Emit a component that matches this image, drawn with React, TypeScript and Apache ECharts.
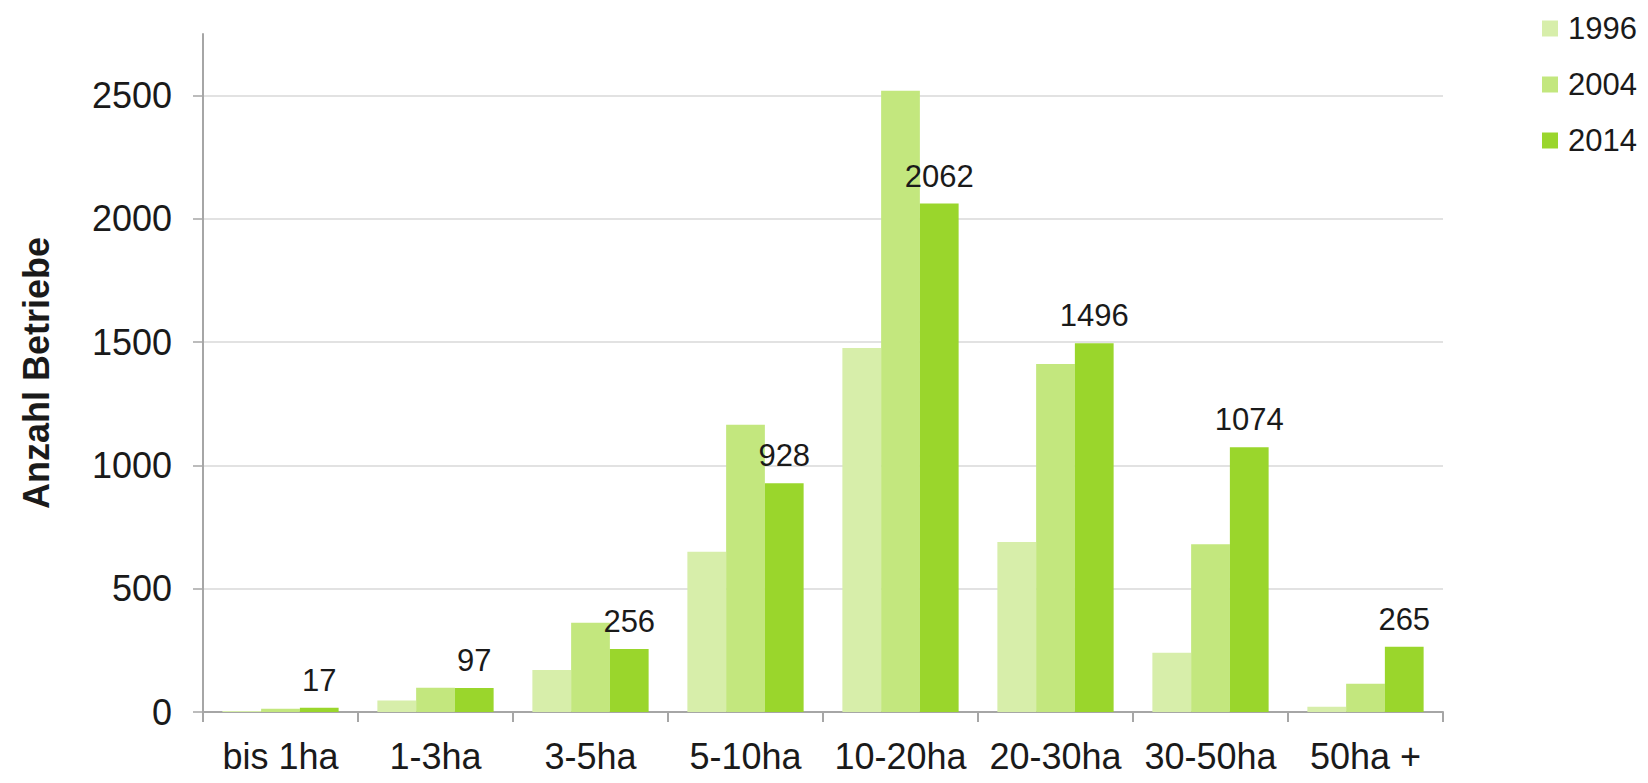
import React, { useEffect, useRef } from "react";
import * as echarts from "echarts";

const categories = ["bis 1ha", "1-3ha", "3-5ha", "5-10ha", "10-20ha", "20-30ha", "30-50ha", "50ha +"];
const seriesNames = ["1996", "2004", "2014"];
const values1996 = [4, 47, 170, 650, 1476, 690, 240, 21];
const values2004 = [13, 98, 362, 1165, 2520, 1412, 680, 115];
const values2014 = [17, 97, 256, 928, 2062, 1496, 1074, 265];
const yTicks = [0, 500, 1000, 1500, 2000, 2500];
const colors = ["#d7eeaa", "#c3e77e", "#9ad62c"];

const FONT = "'Liberation Sans', Arial, sans-serif";

export default function App() {
  const ref = useRef<HTMLDivElement>(null);
  useEffect(() => {
    if (!ref.current) return;
    const chart = echarts.init(ref.current, null, { renderer: "svg" });
    const data = [values1996, values2004, values2014];
    chart.setOption({
      animation: false,
      backgroundColor: "#ffffff",
      textStyle: { fontFamily: FONT },
      legend: {
        orient: "vertical",
        left: 1537,
        top: 8,
        itemWidth: 16,
        itemHeight: 16,
        itemGap: 25,
        icon: "rect",
        textStyle: { fontSize: 31, color: "#1a1a1a", fontFamily: FONT, padding: [0, 0, 0, 5] },
        data: seriesNames,
      },
      grid: { left: 203, right: 205, top: 34, bottom: 71, containLabel: false },
      xAxis: {
        type: "category",
        data: categories,
        boundaryGap: true,
        axisLine: { lineStyle: { color: "#a6a6a6", width: 2 } },
        axisTick: { show: true, alignWithLabel: false, length: 10, lineStyle: { color: "#a6a6a6", width: 2 } },
        axisLabel: { fontSize: 36, color: "#1a1a1a", margin: 26, fontFamily: FONT, interval: 0 },
        splitLine: { show: false },
      },
      yAxis: {
        type: "value",
        min: 0,
        max: 2750,
        interval: 500,
        name: "Anzahl Betriebe",
        nameLocation: "middle",
        nameGap: 149,
        nameTextStyle: { fontSize: 36, fontWeight: "bold", color: "#1a1a1a", fontFamily: FONT },
        axisLine: { show: true, lineStyle: { color: "#a6a6a6", width: 2 } },
        axisTick: { show: true, length: 10, lineStyle: { color: "#a6a6a6", width: 1.5 }, customValues: yTicks },
        axisLabel: {
          fontSize: 36,
          color: "#1a1a1a",
          margin: 31,
          fontFamily: FONT,
          customValues: yTicks,
          formatter: (v: number) => String(v),
        },
        splitLine: { show: true, lineStyle: { color: "#d9d9d9", width: 1.5 } },
      },
      series: seriesNames.map((name, i) => ({
        name,
        type: "bar",
        data: data[i],
        barGap: "0%",
        barCategoryGap: "25%",
        itemStyle: { color: colors[i] },
        label:
          i === 2
            ? { show: true, position: "top", distance: 12, fontSize: 31, color: "#1a1a1a", fontFamily: FONT }
            : { show: false },
      })),
    });
    return () => chart.dispose();
  }, []);
  return <div ref={ref} style={{ position: "fixed", left: 0, top: 0, width: 1648, height: 783 }} />;
}
